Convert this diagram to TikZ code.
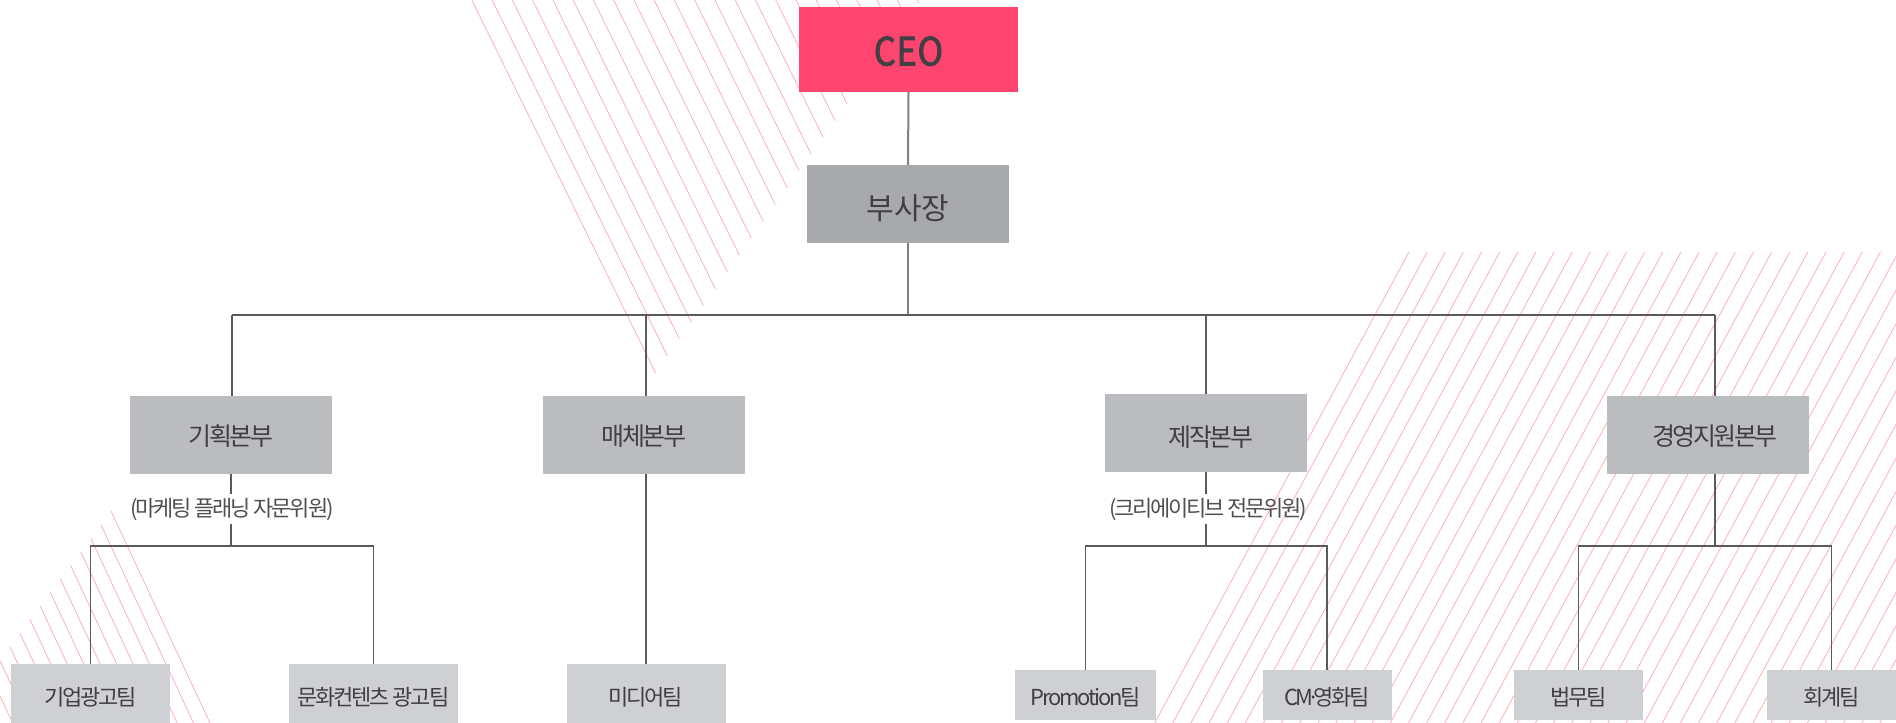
\documentclass[tikz,border=0pt]{standalone}
\usepackage{fontspec}
\setmainfont{Noto Sans CJK KR}
\newfontfamily\ceofont{Noto Sans CJK KR}[FakeStretch=0.88,FakeBold=2.2,LetterSpace=2]
\newfontfamily\tightfont{Noto Sans CJK KR}[LetterSpace=-10]
\newfontfamily\vptfont{Noto Sans CJK KR}[LetterSpace=-1]
\definecolor{hatchpink}{HTML}{FFA8BE}
\definecolor{ceored}{HTML}{FD456F}
\definecolor{vpgray}{HTML}{A8A9AD}
\definecolor{deptgray}{HTML}{BBBCC0}
\definecolor{teamgray}{HTML}{CFD0D3}
\definecolor{inkgray}{HTML}{404044}
\definecolor{subink}{HTML}{505054}
\definecolor{linegray}{HTML}{5A5A5E}
\tikzset{
 x=1pt,y=-1pt,
 hatch/.style={draw=hatchpink,line width=0.75pt},
 box/.style={rectangle,inner sep=0pt,text=inkgray,align=center,text depth=0pt},
 ceobox/.style={box,fill=ceored,minimum width=219pt,minimum height=85pt,text height=32pt,font=\ceofont\fontsize{39}{42}\selectfont},
 vpbox/.style={box,fill=vpgray,minimum width=202pt,minimum height=78pt,text height=30pt,font=\vptfont\fontsize{30}{34}\selectfont},
 deptbox/.style={box,fill=deptgray,minimum width=202pt,minimum height=78pt,text height=21pt,font=\tightfont\fontsize{25}{30}\selectfont},
 teambox/.style={box,fill=teamgray,minimum height=59pt,text height=23pt,font=\tightfont\fontsize{22}{26}\selectfont},
 subbox/.style={box,fill=teamgray,minimum height=50pt,text height=20pt,font=\tightfont\fontsize{22}{26}\selectfont},
 advisor/.style={rectangle,inner sep=0pt,text=subink,minimum height=29pt,text height=15pt,text depth=0pt,font=\tightfont\fontsize{22}{26}\selectfont},
 link/.style={draw=linegray,line width=1.6pt},
 toplink/.style={draw=gray,line width=2pt},
}
\begin{document}
\begin{tikzpicture}
\useasboundingbox (0,0) rectangle (1896,723);
\fill[white] (0,0) rectangle (1896,723);
\begin{scope}
\clip (0,0) rectangle (1896,723);
% top hatch
\foreach \i in {0,...,22}{
  \pgfmathsetmacro{\sx}{471.8+20.26*\i}
  \pgfmathsetmacro{\ey}{372.7-16.8*\i}
  \pgfmathsetmacro{\ex}{\sx+0.4927*\ey}
  \draw[hatch] (\sx,0) -- (\ex,\ey);
}
% bottom-left hatch
\foreach \i in {0,...,15}{
  \pgfmathsetmacro{\sx}{111-10.1*\i}
  \pgfmathsetmacro{\sy}{511+13.6*\i}
  \pgfmathsetmacro{\ex}{\sx+0.467*(723-\sy)}
  \draw[hatch] (\sx,\sy) -- (\ex,723);
}
% right hatch
\foreach \i in {0,...,40}{
  \pgfmathsetmacro{\sx}{1409+18.13*\i}
  \pgfmathsetmacro{\ex}{\sx-0.54*471}
  \draw[hatch] (\sx,252) -- (\ex,723);
}
\end{scope}

\node[ceobox] (ceo) at (908.5,49.5) {CEO};
\node[vpbox] (vp) at (908,204) {부사장};
\node[deptbox] (plan) at (231,435) {기획본부};
\node[deptbox] (media) at (644,435) {매체본부};
\node[deptbox,text height=26pt] (prod) at (1206,433) {\hspace{10pt}제작본부};
\node[deptbox] (mgmt) at (1708,435) {\hspace{14pt}경영지원본부};
\node[advisor] (advplan) at (232,509) {(마케팅 플래닝 자문위원)};
\node[advisor] (advprod) at (1208,509) {(크리에이티브 전문위원)};
\node[teambox,minimum width=159pt] (t1) at (90.5,693.5) {기업광고팀};
\node[teambox,minimum width=169pt] (t2) at (373.5,693.5) {문화컨텐츠 광고팀};
\node[teambox,minimum width=159pt] (t3) at (646,693.5) {미디어팀};
\node[subbox,minimum width=141pt] (t4) at (1085.5,695) {Promotion팀};
\node[subbox,minimum width=129pt] (t5) at (1327,695) {CM\kern-0.27em·\kern-0.3em영화팀};
\node[subbox,minimum width=129pt] (t6) at (1578.5,695) {법무팀};
\node[subbox,minimum width=129pt] (t7) at (1831.5,695) {회계팀};

\coordinate (busV) at (908,315);
\coordinate (jA) at (232,315);
\coordinate (jB) at (646,315);
\coordinate (jC) at (1206,315);
\coordinate (jD) at (1715,315);
\coordinate (jP) at (231,546);
\coordinate (jQ) at (1206,546);
\coordinate (jR) at (1715,546);

\draw[toplink] (ceo.south) -- (vp.north);
\draw[toplink] (vp.south) -- (busV);
\draw[link] (jA) -- (jD);
\draw[link] (jA) -- (jA |- plan.north);
\draw[link] (jB) -- (jB |- media.north);
\draw[link] (jC) -- (jC |- prod.north);
\draw[link] (jD) -- (jD |- mgmt.north);
\draw[link] (jP |- plan.south) -- (jP |- advplan.north);
\draw[link] (jP |- advplan.south) -- (jP);
\draw[link] (jQ |- prod.south) -- (jQ |- advprod.north);
\draw[link] (jQ |- advprod.south) -- (jQ);
\draw[link] (jR |- mgmt.south) -- (jR);
\draw[link] (jB |- media.south) -- (t3.north);
\draw[link] (t1.north) -- (t1.north |- jP) -- (t2.north |- jP) -- (t2.north);
\draw[link] (t4.north) -- (t4.north |- jQ) -- (t5.north |- jQ) -- (t5.north);
\draw[link] (t6.north) -- (t6.north |- jR) -- (t7.north |- jR) -- (t7.north);
\end{tikzpicture}
\end{document}
